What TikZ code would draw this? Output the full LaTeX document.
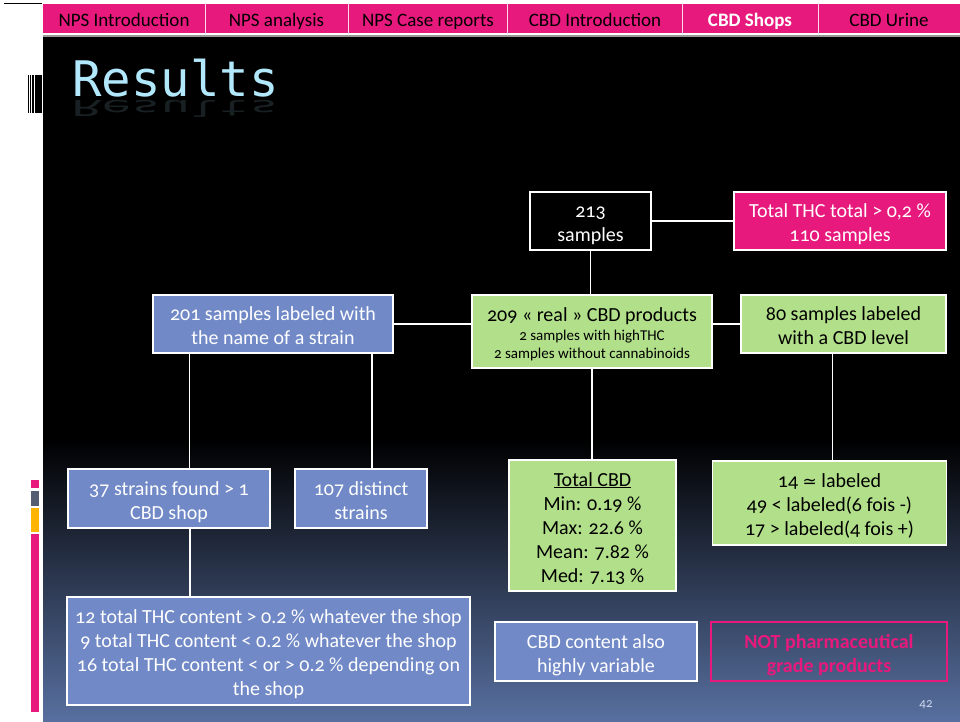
\documentclass[tikz,border=0pt]{standalone}
\usepackage{fontspec}
\setmainfont{Carlito}[Numbers=OldStyle]
\newfontfamily\titlefont{DejaVu Sans Mono}
\newfontfamily\symfont{DejaVu Sans}
\definecolor{navpink}{RGB}{232,25,125}
\definecolor{boxblue}{RGB}{113,137,198}
\definecolor{boxgreen}{RGB}{178,224,138}
\definecolor{titleblue}{RGB}{178,232,252}
\definecolor{bgmid}{RGB}{38,48,74}
\definecolor{bgbot}{RGB}{88,112,160}
\definecolor{stripgray}{RGB}{84,94,114}
\definecolor{striporange}{RGB}{255,180,0}
\definecolor{pagenum}{RGB}{205,215,235}
\newcommand\firstline{\rule{0pt}{23pt}}
\tikzset{
  box/.style={draw=white, line width=1.5pt, align=center, inner sep=0pt,
    font=\fontsize{20}{24}\selectfont,
    execute at end node={\rule[-6pt]{0pt}{0pt}}},
  bluebox/.style={box, fill=boxblue, text=white},
  greenbox/.style={box, fill=boxgreen, text=black},
  navlabel/.style={text=black, font=\fontsize{19}{20}\selectfont, anchor=base, inner sep=0pt},
  conn/.style={draw=white, line width=1.5pt},
  sep/.style={draw=white!85!navpink, line width=1pt}
}
\begin{document}
\begin{tikzpicture}[x=1pt,y=-1pt]
\useasboundingbox (0,0) rectangle (960,722);
% background
\fill[white] (0,0) rectangle (960,722);
\fill[black] (43,37) rectangle (960,440);
\shade[top color=black, middle color=bgmid, bottom color=bgbot] (43,439.5) rectangle (960,722);
% top-left line
\draw[black, line width=1pt] (4,3.5) -- (42,3.5);
% nav bar
\fill[navpink] (43,4) rectangle (960,33.5);
\fill[white] (43,33.5) rectangle (960,34.6);
\fill[black!40] (43,34.6) rectangle (960,37);
\foreach \xx in {205,348.5,507.5,682,818}{\draw[sep] (\xx,4) -- (\xx,34);}
\node[navlabel] (nav1) at (124,26.5) {NPS Introduction};
\node[navlabel] (nav2) at (276.5,26.5) {NPS analysis};
\node[navlabel] (nav3) at (428,26.5) {NPS Case reports};
\node[navlabel] (nav4) at (595,26.5) {CBD Introduction};
\node[navlabel, text=white, font=\bfseries\fontsize{19}{20}\selectfont] (nav5) at (750,26.5) {CBD Shops};
\node[navlabel] (nav6) at (889,26.5) {CBD Urine};
% barcode decoration
\fill[black] (28,75) rectangle (29.2,113);
\fill[black] (30.3,75) rectangle (31.3,113);
\fill[black] (32.4,75) rectangle (34,113);
\fill[black] (35.3,75) rectangle (42,113);
% left colour strip
\fill[navpink] (31,480) rectangle (39,488);
\fill[stripgray] (31,491) rectangle (39,506);
\fill[striporange] (31,507.5) rectangle (39,532);
\fill[navpink] (31,534) rectangle (39,712);
% title
\node[anchor=base west, inner sep=0pt, text=titleblue, font=\titlefont\fontsize{49}{49}\selectfont] (title) at (72,97) {Results};
\node[anchor=north west, inner sep=0pt, text=titleblue, opacity=0.14, font=\titlefont\fontsize{49}{49}\selectfont] (titlerefl) at (72,99.5) {\scalebox{1}[-0.45]{Results}};
% boxes
\node[box, fill=black, text=white, minimum width=121pt, minimum height=58pt] (n213) at (590.5,221) {\firstline 213\\samples};
\node[box, fill=navpink, text=white, minimum width=212pt, minimum height=58pt] (thc) at (840,221) {\firstline Total THC total > 0,2 \%\\110 samples};
\node[bluebox, minimum width=240pt, minimum height=58pt] (strain) at (273,324) {\firstline 201 samples labeled with\\the name of a strain};
\node[greenbox, minimum width=240pt, minimum height=73pt] (real) at (592,331.5) {\firstline 209 « real » CBD products\\[-5pt]{\fontsize{15}{17}\selectfont 2 samples with highTHC}\\[-6pt]{\fontsize{15}{17}\selectfont 2 samples without cannabinoids}};
\node[greenbox, minimum width=205pt, minimum height=58pt] (cbdlvl) at (843.5,324) {\firstline 80 samples labeled\\with a CBD level};
\node[bluebox, minimum width=202pt, minimum height=59pt] (s37) at (169,498.5) {\firstline 37 strains found > 1\\CBD shop};
\node[bluebox, minimum width=132pt, minimum height=59pt] (s107) at (361,498.5) {\firstline 107 distinct\\strains};
\node[greenbox, minimum width=167pt, minimum height=131pt] (totcbd) at (592.5,525.5) {\firstline\underline{Total CBD}\\Min: 0.19 \%\\Max: 22.6 \%\\Mean: 7.82 \%\\Med: 7.13 \%};
\node[greenbox, minimum width=234pt, minimum height=84pt] (lbl) at (829.5,503) {\firstline 14 {\symfont\fontsize{17}{24}\selectfont ≃} labeled\\49 < labeled(6 fois -)\\17 > labeled(4 fois +)};
\node[bluebox, minimum width=403pt, minimum height=108pt] (big) at (268.5,651) {\firstline 12 total THC content > 0.2 \% whatever the shop\\9 total THC content < 0.2 \% whatever the shop\\16 total THC content < or > 0.2 \% depending on\\the shop};
\node[bluebox, minimum width=202pt, minimum height=59pt] (var) at (596,651.5) {\firstline CBD content also\\highly variable};
\node[box, draw=navpink, fill=none, text=navpink, minimum width=236pt, minimum height=59pt, font=\bfseries\fontsize{20}{24}\selectfont] (notph) at (829,651.5) {\firstline NOT pharmaceutical\\grade products};
\node[text=pagenum, font=\fontsize{13}{13}\selectfont] (pg) at (926,705) {42};
% connectors
\draw[conn] (n213.east) -- (thc.west);
\draw[conn] (n213.south) -- (n213.south |- real.north);
\draw[conn] (strain.east) -- (strain.east -| real.west);
\draw[conn] (cbdlvl.west -| real.east) -- (cbdlvl.west);
\draw[conn] ([xshift=37pt]strain.south west) -- ([xshift=37pt]strain.south west |- s37.north);
\draw[conn] ([xshift=-22pt]strain.south east) -- ([xshift=-22pt]strain.south east |- s107.north);
\draw[conn] (real.south) -- (real.south |- totcbd.north);
\draw[conn] ([xshift=-11pt]cbdlvl.south) -- ([xshift=-11pt]cbdlvl.south |- lbl.north);
\draw[conn] ([xshift=21pt]s37.south) -- ([xshift=21pt]s37.south |- big.north);
\end{tikzpicture}
\end{document}
